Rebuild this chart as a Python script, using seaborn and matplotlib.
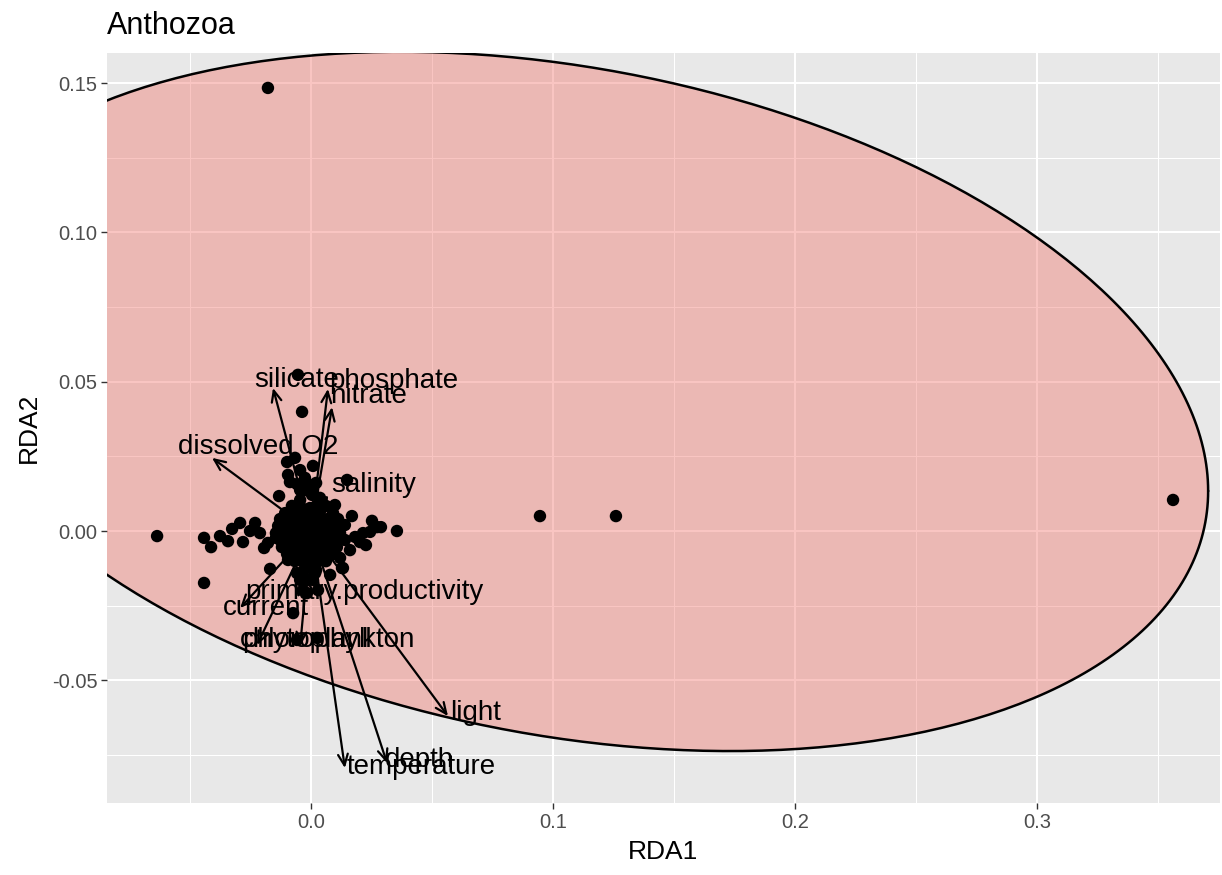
"""RDA biplot of Anthozoa site scores with environmental vectors and a confidence ellipse."""

import matplotlib
matplotlib.use("Agg")
import matplotlib.pyplot as plt
import numpy as np
import pandas as pd
import seaborn as sns

# site scores (RDA1, RDA2)
site_rda1 = [
    -0.0178, 0.3562, 0.0946, 0.1260, -0.0636, -0.0442, -0.0054, -0.0037, 0.0355, 0.0149,
    -0.0442, -0.0413, -0.0376, -0.0343, -0.0293, -0.0231, -0.0281, -0.0211, -0.0178, -0.0169,
    -0.0132, -0.0099, -0.0066, -0.0095, 0.0008, 0.0099, 0.0169, 0.0161, 0.0128, 0.0215,
    0.0273, 0.0244, -0.0074, -0.0058, 0.0025, -0.0017, -0.0033, 0.0029, -0.0012, -0.0058,
    0.0017, 0.0132, 0.0120, 0.0202, 0.0091, -0.0326, -0.0252, -0.0194, -0.0145, -0.0087,
    -0.0045, -0.0021, 0.0021, 0.0037, 0.0066, 0.0140, 0.0182, 0.0252, 0.0289, 0.0227,
    -0.0095, 0.0037, 0.0079,
    -0.0087, -0.0045, -0.0004, 0.0037, 0.0079, -0.0107, -0.0066, -0.0025, 0.0017, 0.0058,
    0.0099, -0.0116, -0.0074, -0.0033, 0.0008, 0.0050, 0.0091, -0.0095, -0.0054, -0.0012,
    0.0029, 0.0070, -0.0066, -0.0025, 0.0017, -0.0004, -0.0045, 0.0004, -0.0025, -0.0004,
    -0.0037, 0.0029, -0.0079, 0.0062,
    -0.0079, -0.0045, 0.0021, 0.0062,
    -0.0107, -0.0062, -0.0021, 0.0004, 0.0091,
    -0.0128, -0.0087, -0.0045, -0.0008, 0.0045, 0.0112,
    -0.0136, -0.0095, -0.0004, 0.0037, 0.0083, 0.0128,
    -0.0145, -0.0054, -0.0017, 0.0029, 0.0070, 0.0120,
    -0.0128, -0.0087, -0.0045, 0.0037, 0.0099, 0.0140,
    -0.0120, -0.0074, -0.0033, 0.0008, 0.0050, 0.0107,
    -0.0099, -0.0045, -0.0004, 0.0045, 0.0091,
    -0.0066, -0.0033, 0.0029, 0.0062,
    -0.0045, 0.0008, -0.0058, -0.0012, -0.0029, 0.0021, -0.0045, 0.0008,
]
site_rda2 = [
    0.1484, 0.0104, 0.0050, 0.0050, -0.0017, -0.0174, 0.0523, 0.0399, 0.0000, 0.0171,
    -0.0023, -0.0054, -0.0017, -0.0034, 0.0027, 0.0027, -0.0037, -0.0007, -0.0040, -0.0127,
    0.0117, 0.0231, 0.0245, 0.0188, 0.0218, 0.0087, 0.0050, -0.0064, -0.0124, -0.0007,
    0.0013, -0.0003, -0.0275, -0.0365, -0.0358, -0.0208, -0.0198, -0.0198, -0.0164, -0.0141,
    -0.0141, -0.0124, -0.0090, -0.0037, -0.0040, 0.0007, 0.0000, -0.0057, -0.0023, 0.0164,
    0.0204, 0.0137, 0.0161, 0.0111, 0.0037, 0.0020, -0.0020, 0.0034, 0.0013, -0.0047,
    -0.0097, -0.0097, -0.0147,
    0.0054, 0.0070, 0.0077, 0.0064, 0.0044, 0.0020, 0.0020, 0.0030, 0.0037, 0.0013,
    0.0003, -0.0013, -0.0023, -0.0010, -0.0003, -0.0020, -0.0023, -0.0057, -0.0050, -0.0047,
    -0.0057, -0.0064, -0.0087, -0.0080, -0.0084, -0.0114, 0.0104, 0.0121, 0.0178, -0.0030,
    0.0010, 0.0010, 0.0003, -0.0040,
    0.0084, 0.0084, 0.0084, 0.0084,
    0.0060, 0.0060, 0.0060, 0.0060, 0.0060,
    0.0040, 0.0040, 0.0040, 0.0040, 0.0040, 0.0040,
    0.0017, 0.0017, 0.0017, 0.0017, 0.0017, 0.0017,
    -0.0007, -0.0007, -0.0007, -0.0007, -0.0007, -0.0007,
    -0.0030, -0.0030, -0.0030, -0.0030, -0.0030, -0.0030,
    -0.0054, -0.0054, -0.0054, -0.0054, -0.0054, -0.0054,
    -0.0077, -0.0077, -0.0077, -0.0077, -0.0077,
    -0.0101, -0.0101, -0.0101, -0.0101,
    0.0137, 0.0137, 0.0157, 0.0157, -0.0131, -0.0131, -0.0164, -0.0164,
]

# environmental biplot vectors
env_names = [
    "silicate", "phosphate", "nitrate", "dissolved O2", "salinity", "primary.productivity",
    "current", "chlorophyll", "phytoplankton", "light", "temperature", "depth",
]
arrow_rda1 = [-0.0157, 0.0070, 0.0087, -0.0409, 0.0070, -0.0054,
              -0.0293, -0.0223, -0.0045, 0.0566, 0.0140, 0.0314]
arrow_rda2 = [0.0479, 0.0476, 0.0415, 0.0245, 0.0121, -0.0224,
              -0.0258, -0.0382, -0.0385, -0.0620, -0.0794, -0.0777]
label_rda1 = [-0.0058, 0.0343, 0.0240, -0.0219, 0.0260, 0.0219,
              -0.0186, -0.0021, 0.0070, 0.0678, 0.0455, 0.0450]
label_rda2 = [0.0506, 0.0503, 0.0452, 0.0281, 0.0154, -0.0204,
              -0.0258, -0.0365, -0.0365, -0.0610, -0.0791, -0.0767]

# ellipse: centre + cos/sin half-diameters
ellipse_center = (0.1050, 0.0434)
ellipse_u = (0.2657, -0.0300)
ellipse_v = (0.0, 0.1132)

x_limits = (-0.0843, 0.3756)
y_limits = (-0.0911, 0.1601)

sns.set_theme(style="darkgrid", rc={"axes.facecolor": "#E8E8E8", "grid.color": "white"})
plt.rcParams["font.family"] = ["Liberation Sans", "DejaVu Sans"]

sites = pd.DataFrame({"RDA1": site_rda1, "RDA2": site_rda2})

fig = plt.figure(figsize=(12.22, 8.75), dpi=100)
ax = fig.add_axes([107 / 1222, 1 - 803 / 875, (1220 - 107) / 1222, (803 - 53) / 875])

t = np.linspace(0, 2 * np.pi, 400)
ex = ellipse_center[0] + ellipse_u[0] * np.cos(t) + ellipse_v[0] * np.sin(t)
ey = ellipse_center[1] + ellipse_u[1] * np.cos(t) + ellipse_v[1] * np.sin(t)
ax.fill(ex, ey, facecolor="#F07068", alpha=0.4, edgecolor="none", zorder=1)
ax.plot(ex, ey, color="black", lw=1.8, zorder=2)

sns.scatterplot(data=sites, x="RDA1", y="RDA2", color="black", s=80,
                edgecolor="none", linewidth=0, legend=False, zorder=3, ax=ax)

for name, x1, y1, lx, ly in zip(env_names, arrow_rda1, arrow_rda2, label_rda1, label_rda2):
    ax.annotate("", xy=(x1, y1), xytext=(0, 0), zorder=4,
                arrowprops=dict(arrowstyle="->,head_length=0.5,head_width=0.22", color="black",
                                lw=1.6, shrinkA=0, shrinkB=0, mutation_scale=16))
    ax.text(lx, ly, name, ha="center", va="center", fontsize=20, color="black", zorder=5)

ax.set_xlim(*x_limits)
ax.set_ylim(*y_limits)
ax.set_xticks([0.0, 0.1, 0.2, 0.3])
ax.set_xticklabels(["0.0", "0.1", "0.2", "0.3"])
ax.set_xticks([-0.05, 0.05, 0.15, 0.25, 0.35], minor=True)
ax.set_yticks([-0.05, 0.0, 0.05, 0.10, 0.15])
ax.set_yticklabels(["-0.05", "0.00", "0.05", "0.10", "0.15"])
ax.set_yticks([-0.075, -0.025, 0.025, 0.075, 0.125], minor=True)
ax.grid(which="major", color="white", lw=1.5)
ax.grid(which="minor", color="white", lw=0.75)
ax.set_axisbelow(True)
for spine in ax.spines.values():
    spine.set_visible(False)
ax.tick_params(which="major", bottom=True, left=True, length=4, width=1, color="#333333",
               labelsize=14.5, labelcolor="#4D4D4D", pad=3)
ax.tick_params(which="minor", length=0)

ax.set_xlabel("RDA1", fontsize=19, color="black", labelpad=6)
ax.set_ylabel("RDA2", fontsize=19, color="black", labelpad=8)
ax.set_title("Anthozoa", loc="left", fontsize=22, color="black", pad=14)

fig.savefig("out.png", dpi=100)
plt.close(fig)
